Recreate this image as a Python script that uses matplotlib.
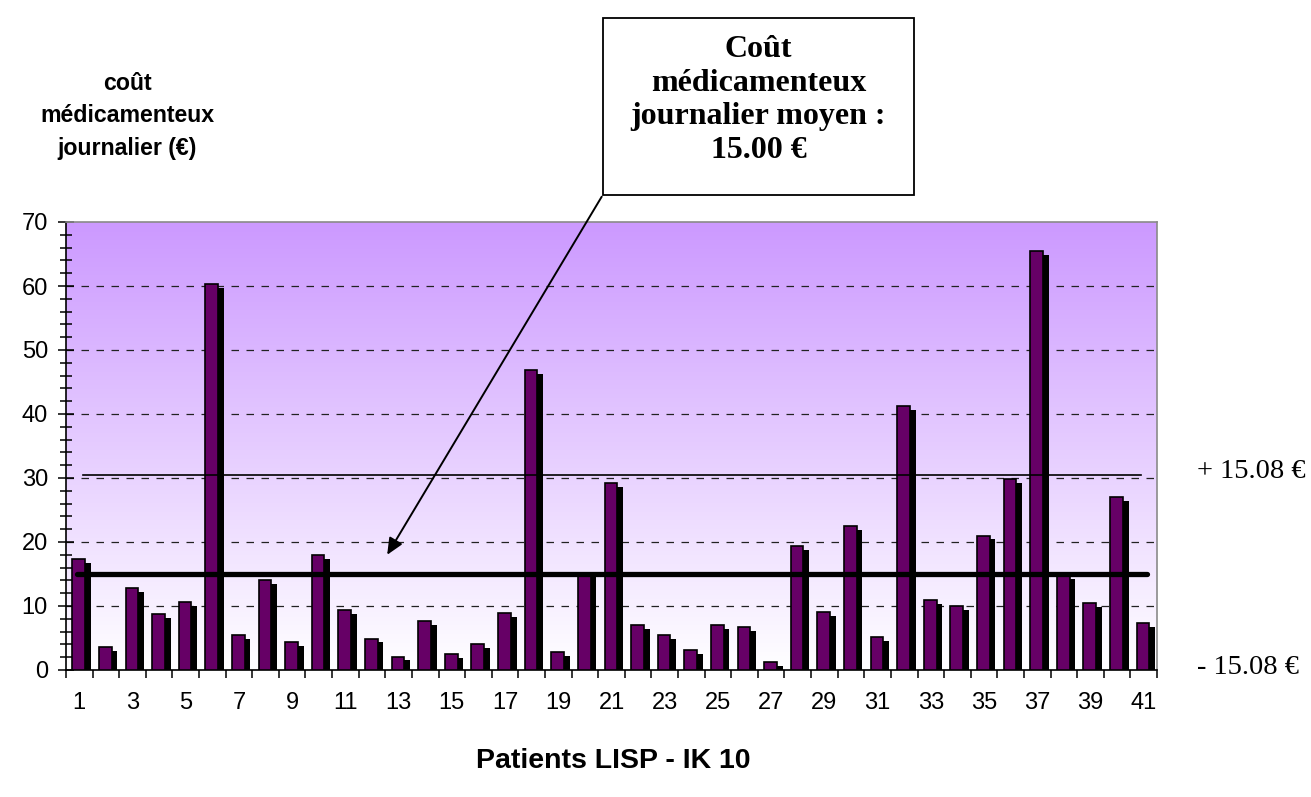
import matplotlib
matplotlib.use('Agg')
import matplotlib.pyplot as plt
import numpy as np
from matplotlib.patches import Rectangle
from matplotlib.colors import LinearSegmentedColormap

# données
patients = np.arange(1, 42)
couts = [17.3, 3.6, 12.8, 8.8, 10.6, 60.3, 5.4, 14.0, 4.3, 17.9,
         9.4, 4.9, 2.1, 7.7, 2.45, 4.0, 8.9, 46.8, 2.8, 15.2,
         29.2, 7.0, 5.5, 3.1, 7.0, 6.7, 1.2, 19.4, 9.1, 22.5,
         5.2, 41.3, 10.9, 10.0, 21.0, 29.8, 65.5, 14.8, 10.4, 27.0, 7.3]
moyenne = 15.0
ecart = 15.08
seuil_haut = 30.5
etiquettes_x = [str(p) if p % 2 == 1 else '' for p in patients]
yticks = [0, 10, 20, 30, 40, 50, 60, 70]

W, H = 1311, 797
fig = plt.figure(figsize=(W / 100, H / 100), dpi=100)
fig.patch.set_facecolor('white')

# zone de tracé (en pixels)
x0, x1, y0, y1 = 66, 1157, 222, 670
ax = fig.add_axes([x0 / W, 1 - y1 / H, (x1 - x0) / W, (y1 - y0) / H])
ax.set_xlim(0.5, 41.5)
ax.set_ylim(0, 70)

# fond dégradé
cmap = LinearSegmentedColormap.from_list('fond', ['#ffffff', '#cc99ff'])
grad = np.linspace(0, 1, 256).reshape(-1, 1)
ax.imshow(grad, extent=[0.5, 41.5, 0, 70], origin='lower', aspect='auto',
          cmap=cmap, zorder=0)

# grille
for v in yticks[1:-1]:
    ax.axhline(v, color='#222222', lw=0.9, ls=(0, (6, 6)), zorder=1)

# barres (effet 3D: face latérale noire)
x = np.array(patients, dtype=float)
v = np.array(couts)
ax.bar(x - 0.05, v - 0.6, width=0.48, align='edge', color='black',
       edgecolor='none', zorder=2)
ax.bar(x - 0.263, v, width=0.477, align='edge', color='#660066',
       edgecolor='black', linewidth=1.2, zorder=3)

# lignes moyenne / seuil
ax.plot([0.9, 41.13], [moyenne, moyenne], color='black', lw=3.8,
        solid_capstyle='round', zorder=4)
ax.plot([1.14, 40.9], [seuil_haut, seuil_haut], color='black', lw=1.2, zorder=4)

# axes
for s in ['top', 'right']:
    ax.spines[s].set_color('#8a8a8a')
    ax.spines[s].set_linewidth(1.2)
for s in ['left', 'bottom']:
    ax.spines[s].set_color('black')
    ax.spines[s].set_linewidth(1.2)

ax.set_yticks(yticks)
ax.set_yticks(np.arange(0, 71, 2), minor=True)
ax.tick_params(axis='y', which='major', direction='inout', length=12, width=1.1,
               pad=7, labelsize=17)
ax.tick_params(axis='y', which='minor', direction='inout', length=8, width=1.1)

ax.set_xticks(x)
ax.set_xticklabels(etiquettes_x)
ax.set_xticks(np.arange(0.5, 42, 1), minor=True)
ax.tick_params(axis='x', which='major', length=0, pad=16, labelsize=17)
ax.tick_params(axis='x', which='minor', direction='out', length=6, width=1.1)
for lab in ax.get_xticklabels() + ax.get_yticklabels():
    lab.set_fontfamily('Liberation Sans')

# titres
fig.text(127 / W, 1 - 116 / H, 'coût\nmédicamenteux\njournalier (€)',
         ha='center', va='center', fontsize=16.7, fontweight='bold',
         family='Liberation Sans', linespacing=1.5)
fig.text(613 / W, 1 - 761 / H, 'Patients LISP - IK 10', ha='center', va='center',
         fontsize=20.5, fontweight='bold', family='Liberation Sans')

fig.text(1197 / W, 1 - 472 / H, '+ 15.08 €', ha='left', va='center',
         fontsize=20.5, family='Liberation Serif')
fig.text(1197 / W, 1 - 668 / H, '- 15.08 €', ha='left', va='center',
         fontsize=20.5, family='Liberation Serif')

# encadré
bx0, bx1, by0, by1 = 603, 914, 18, 195
fig.patches.append(Rectangle((bx0 / W, 1 - by1 / H), (bx1 - bx0) / W, (by1 - by0) / H,
                             transform=fig.transFigure, facecolor='white',
                             edgecolor='black', lw=1.3))
fig.text((bx0 + bx1) / 2 / W, 1 - 100 / H,
         'Coût\nmédicamenteux\njournalier moyen :\n15.00 €',
         ha='center', va='center', fontsize=23, fontweight='bold',
         family='Liberation Serif', linespacing=1.22)

ax.annotate('', xy=(12.57, 18.0), xycoords='data',
            xytext=(601.7 / W, 1 - 196.7 / H), textcoords='figure fraction',
            arrowprops=dict(arrowstyle='-|>,head_length=1.0,head_width=0.45',
                            color='black', lw=1.4, shrinkA=0, shrinkB=0),
            annotation_clip=False)

fig.savefig('out.png', dpi=100, facecolor='white')
